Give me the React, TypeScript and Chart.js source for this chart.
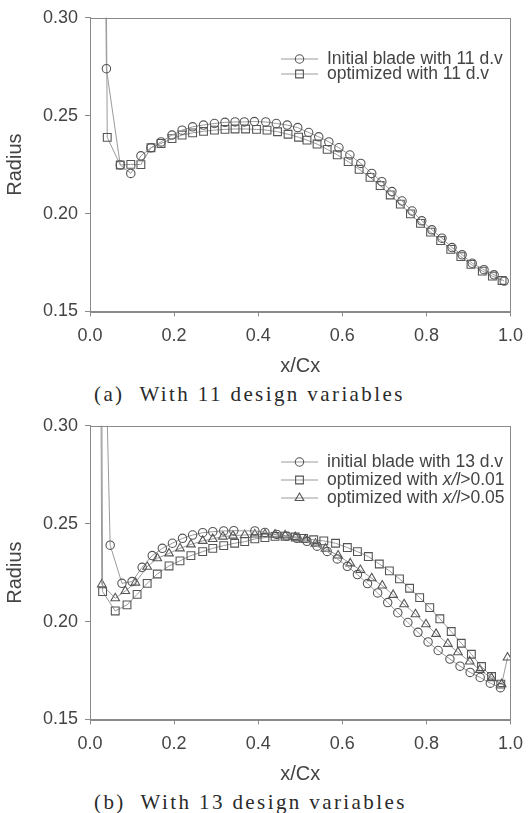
import React, { useEffect, useRef } from "react";
import { Chart, registerables } from "chart.js";

Chart.register(...registerables);

const SANS = '"Liberation Sans", Arial, sans-serif';
const SERIF = '"Liberation Serif", "Times New Roman", serif';

// ---------- Chart (a): 11 design variables ----------
const aInitX = [0.037, 0.039, 0.072, 0.097, 0.121, 0.145, 0.169, 0.195, 0.219, 0.244, 0.270, 0.296, 0.321, 0.345, 0.367, 0.391, 0.418, 0.443, 0.469, 0.494, 0.520, 0.544, 0.568, 0.592, 0.618, 0.644, 0.670, 0.694, 0.718, 0.742, 0.766, 0.789, 0.813, 0.837, 0.861, 0.885, 0.909, 0.937, 0.961, 0.985];
const aInitY = [0.320, 0.274, 0.2248, 0.2205, 0.2295, 0.2336, 0.2366, 0.2401, 0.2426, 0.2443, 0.2452, 0.2460, 0.2466, 0.2468, 0.2468, 0.2470, 0.2468, 0.2460, 0.2452, 0.2439, 0.2414, 0.2392, 0.2366, 0.2336, 0.2299, 0.2256, 0.2205, 0.2163, 0.2112, 0.2064, 0.2013, 0.1963, 0.1917, 0.1874, 0.1826, 0.1789, 0.1746, 0.1713, 0.1687, 0.1655];

const aOptX = [0.039, 0.041, 0.072, 0.097, 0.121, 0.145, 0.169, 0.195, 0.219, 0.244, 0.270, 0.296, 0.321, 0.345, 0.370, 0.396, 0.421, 0.446, 0.471, 0.496, 0.516, 0.540, 0.564, 0.588, 0.614, 0.640, 0.666, 0.690, 0.714, 0.738, 0.762, 0.786, 0.810, 0.834, 0.858, 0.882, 0.906, 0.933, 0.957, 0.980];
const aOptY = [0.310, 0.2389, 0.2248, 0.2251, 0.2250, 0.2336, 0.2358, 0.2383, 0.2401, 0.2412, 0.2420, 0.2426, 0.2430, 0.2432, 0.2432, 0.2430, 0.2426, 0.2418, 0.2405, 0.2390, 0.2375, 0.2355, 0.2328, 0.2300, 0.2265, 0.2226, 0.2185, 0.2143, 0.2095, 0.2048, 0.1998, 0.1950, 0.1905, 0.1862, 0.1817, 0.1780, 0.1740, 0.1706, 0.1680, 0.1658];

// ---------- Chart (b): 13 design variables ----------
const bInitX = [0.038, 0.048, 0.076, 0.100, 0.124, 0.148, 0.172, 0.196, 0.220, 0.244, 0.268, 0.292, 0.318, 0.342, 0.392, 0.416, 0.444, 0.468, 0.492, 0.516, 0.540, 0.564, 0.588, 0.612, 0.636, 0.660, 0.684, 0.708, 0.732, 0.756, 0.780, 0.804, 0.828, 0.856, 0.880, 0.904, 0.928, 0.952, 0.976];
const bInitY = [0.330, 0.239, 0.2195, 0.2204, 0.2277, 0.2337, 0.2374, 0.2400, 0.2425, 0.2442, 0.2454, 0.2459, 0.2463, 0.2464, 0.2463, 0.2455, 0.2445, 0.2436, 0.2425, 0.2410, 0.2385, 0.2358, 0.2320, 0.2282, 0.2240, 0.2194, 0.2146, 0.2097, 0.2045, 0.1995, 0.1945, 0.1896, 0.1852, 0.1808, 0.1772, 0.1740, 0.1714, 0.1685, 0.1662];

const bOpt01X = [0.028, 0.030, 0.060, 0.088, 0.112, 0.136, 0.160, 0.188, 0.214, 0.240, 0.268, 0.292, 0.318, 0.344, 0.368, 0.392, 0.416, 0.440, 0.464, 0.488, 0.508, 0.532, 0.556, 0.584, 0.612, 0.636, 0.662, 0.688, 0.712, 0.736, 0.760, 0.784, 0.808, 0.832, 0.859, 0.883, 0.907, 0.931, 0.955, 0.977];
const bOpt01Y = [0.320, 0.2153, 0.2054, 0.2085, 0.2139, 0.2195, 0.2243, 0.2284, 0.2310, 0.2337, 0.2357, 0.2374, 0.2388, 0.2400, 0.2408, 0.2422, 0.2429, 0.2435, 0.2436, 0.2432, 0.2425, 0.2418, 0.2412, 0.2400, 0.2378, 0.2357, 0.2332, 0.2294, 0.2259, 0.2218, 0.2170, 0.2122, 0.2071, 0.2014, 0.1949, 0.1889, 0.1833, 0.1770, 0.1719, 0.1680];

const bOpt05X = [0.026, 0.028, 0.060, 0.084, 0.108, 0.136, 0.160, 0.188, 0.214, 0.240, 0.268, 0.292, 0.316, 0.340, 0.368, 0.392, 0.416, 0.440, 0.464, 0.488, 0.512, 0.536, 0.560, 0.590, 0.619, 0.643, 0.670, 0.695, 0.721, 0.747, 0.774, 0.799, 0.823, 0.851, 0.875, 0.903, 0.927, 0.955, 0.979, 0.993];
const bOpt05Y = [0.320, 0.2190, 0.2119, 0.2156, 0.2199, 0.2280, 0.2323, 0.2348, 0.2374, 0.2394, 0.2412, 0.2422, 0.2434, 0.2439, 0.2442, 0.2445, 0.2446, 0.2444, 0.2440, 0.2432, 0.2418, 0.2398, 0.2372, 0.2337, 0.2297, 0.2263, 0.2221, 0.2184, 0.2136, 0.2088, 0.2037, 0.1986, 0.1937, 0.1886, 0.1843, 0.1796, 0.1753, 0.1711, 0.1680, 0.1816];

// ---------- Axis settings ----------
const xMin = 0;
const xMax = 1;
const xStep = 0.2;
const yMin = 0.15;
const yMax = 0.30;
const yStep = 0.05;

// Legend texts: segments [text, italic]
const aLegend = [
  [["Initial blade with 11 d.v", false]],
  [["optimized with 11 d.v", false]],
];
const bLegend = [
  [["initial blade with 13 d.v", false]],
  [["optimized with ", false], ["x/l", true], [">0.01", false]],
  [["optimized with ", false], ["x/l", true], [">0.05", false]],
];

const LINE = "#9a9a9a";
const MARK = "#555555";
const TEXT = "#444444";

function pts(xs: number[], ys: number[]) {
  return xs.map((x, i) => ({ x, y: ys[i] }));
}

function ds(label: string, xs: number[], ys: number[], style: string, radius: number) {
  return {
    label,
    data: pts(xs, ys),
    borderColor: LINE,
    borderWidth: 1,
    pointStyle: style,
    pointRadius: radius,
    pointBorderColor: MARK,
    pointBorderWidth: 1.1,
    pointBackgroundColor: "rgba(255,255,255,0)",
    showLine: true,
    tension: 0,
    fill: false,
  };
}

function drawMarker(ctx: CanvasRenderingContext2D, style: string, x: number, y: number, r: number) {
  ctx.beginPath();
  if (style === "circle") {
    ctx.arc(x, y, r, 0, Math.PI * 2);
  } else if (style === "rect") {
    const s = r * Math.SQRT1_2;
    ctx.rect(x - s, y - s, 2 * s, 2 * s);
  } else if (style === "triangle") {
    const h = r * 1.5;
    ctx.moveTo(x, y - r);
    ctx.lineTo(x + h / Math.sqrt(3), y + r / 2);
    ctx.lineTo(x - h / Math.sqrt(3), y + r / 2);
    ctx.closePath();
  }
  ctx.stroke();
}

const frameAndLegend = {
  id: "frameAndLegend",
  afterDraw(chart: any, _args: any, opts: any) {
    const ctx = chart.ctx as CanvasRenderingContext2D;
    const a = chart.chartArea;
    ctx.save();
    ctx.strokeStyle = "#8a8a8a";
    ctx.lineWidth = 1;
    ctx.strokeRect(Math.round(a.left) + 0.5, Math.round(a.top) + 0.5, Math.round(a.right - a.left), Math.round(a.bottom - a.top));

    const items = opts.items || [];
    const rows: number[] = opts.rows || [];
    items.forEach((segs: any[], i: number) => {
      const d = chart.data.datasets[i];
      const y = rows[i];
      ctx.strokeStyle = LINE;
      ctx.lineWidth = 1;
      ctx.beginPath();
      ctx.moveTo(opts.lineX0, y);
      ctx.lineTo(opts.lineX1, y);
      ctx.stroke();
      ctx.strokeStyle = MARK;
      ctx.lineWidth = 1.1;
      drawMarker(ctx, d.pointStyle, (opts.lineX0 + opts.lineX1) / 2, y, d.pointRadius);
      let x = opts.textX;
      ctx.fillStyle = TEXT;
      ctx.textBaseline = "middle";
      ctx.textAlign = "left";
      segs.forEach((s: any[]) => {
        ctx.font = `${s[1] ? "italic " : ""}${opts.fontSize}px ${SANS}`;
        ctx.fillText(s[0], x, y);
        x += ctx.measureText(s[0]).width;
      });
    });
    ctx.restore();
  },
};

function makeConfig(datasets: any[], legendItems: any[], rows: number[]) {
  return {
    type: "scatter",
    data: { datasets },
    plugins: [frameAndLegend],
    options: {
      animation: false,
      responsive: false,
      devicePixelRatio: 1,
      layout: { padding: { top: 5, right: 11, bottom: 2, left: 0 } },
      plugins: {
        legend: { display: false },
        tooltip: { enabled: false },
        frameAndLegend: {
          items: legendItems,
          rows,
          lineX0: 281,
          lineX1: 318,
          textX: 327,
          fontSize: 17.5,
        },
      },
      scales: {
        x: {
          type: "linear",
          min: xMin,
          max: xMax,
          border: { color: "#8a8a8a" },
          grid: { drawOnChartArea: false, drawTicks: true, tickLength: 5, color: "#8a8a8a" },
          ticks: {
            stepSize: xStep,
            maxRotation: 0,
            padding: 9,
            color: TEXT,
            font: { family: SANS, size: 18 },
            callback: (v: number) => Number(v).toFixed(1),
          },
          title: {
            display: true,
            text: "x/Cx",
            color: TEXT,
            font: { family: SANS, size: 20 },
            padding: { top: -2, bottom: 0 },
          },
        },
        y: {
          type: "linear",
          min: yMin,
          max: yMax,
          afterFit: (s: any) => {
            s.width = 90;
          },
          border: { color: "#8a8a8a" },
          grid: { drawOnChartArea: false, drawTicks: true, tickLength: 5, color: "#8a8a8a" },
          ticks: {
            stepSize: yStep,
            padding: 7,
            color: TEXT,
            font: { family: SANS, size: 18 },
            callback: (v: number) => Number(v).toFixed(2),
          },
          title: {
            display: true,
            text: "Radius",
            color: TEXT,
            font: { family: SANS, size: 20 },
            padding: { top: 3, bottom: 0 },
          },
        },
      },
    },
  };
}

function ChartBox(props: { config: any; top: number }) {
  const ref = useRef<HTMLCanvasElement | null>(null);
  useEffect(() => {
    if (!ref.current) return;
    const c = new Chart(ref.current, props.config);
    return () => c.destroy();
  }, []);
  return (
    <div style={{ position: "absolute", left: 0, top: props.top, width: 532, height: 380 }}>
      <canvas ref={ref} width={532} height={380} style={{ display: "block" }} />
    </div>
  );
}

const captionStyle: React.CSSProperties = {
  position: "absolute",
  left: 94,
  fontFamily: SERIF,
  fontSize: 21,
  lineHeight: "24px",
  letterSpacing: "2.4px",
  color: "#2a2a2a",
  whiteSpace: "pre",
};

export default function App() {
  const configA = makeConfig(
    [ds("Initial blade with 11 d.v", aInitX, aInitY, "circle", 4.2), ds("optimized with 11 d.v", aOptX, aOptY, "rect", 5.5)],
    aLegend,
    [59, 74]
  );
  const configB = makeConfig(
    [
      ds("initial blade with 13 d.v", bInitX, bInitY, "circle", 4.2),
      ds("optimized with x/l>0.01", bOpt01X, bOpt01Y, "rect", 5.5),
      ds("optimized with x/l>0.05", bOpt05X, bOpt05Y, "triangle", 5),
    ],
    bLegend,
    [54, 72, 90]
  );
  return (
    <div style={{ position: "absolute", left: 0, top: 0, width: 532, height: 813, background: "#fff", overflow: "hidden" }}>
      <ChartBox config={configA} top={0} />
      <div style={{ ...captionStyle, top: 382 }}>{"(a)  With 11 design variables"}</div>
      <ChartBox config={configB} top={408} />
      <div style={{ ...captionStyle, top: 790 }}>{"(b)  With 13 design variables"}</div>
    </div>
  );
}
